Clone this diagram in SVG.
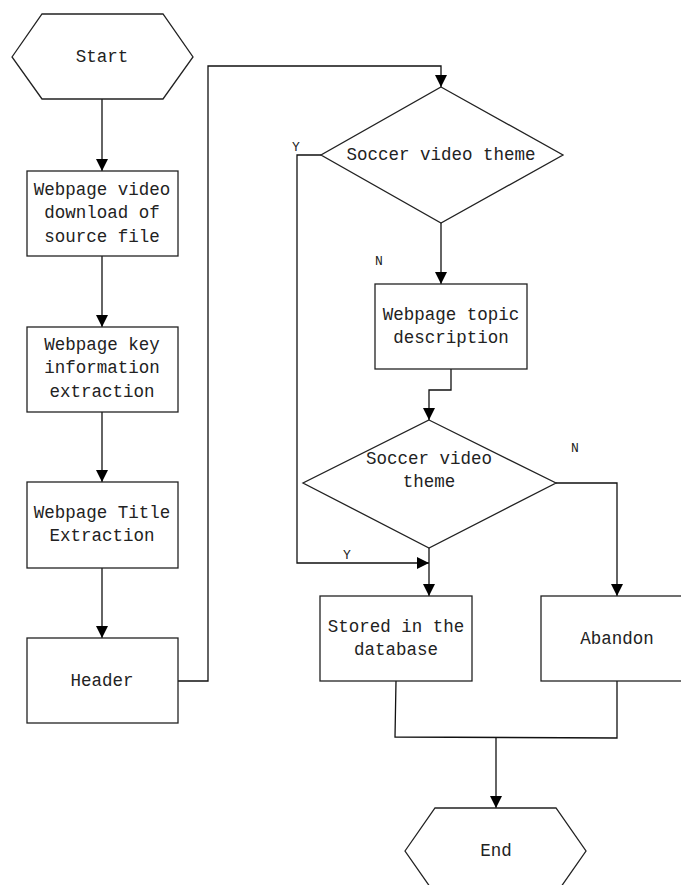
<svg xmlns="http://www.w3.org/2000/svg" width="681" height="885" viewBox="0 0 681 885">
<style>
.s{fill:#fff;stroke:#222;stroke-width:1.3}
.c{fill:none;stroke:#111;stroke-width:1.3}
.t{font-family:"Liberation Mono","DejaVu Sans Mono",monospace;font-size:17.5px;fill:#222;text-anchor:middle;dominant-baseline:central}
.l{font-family:"Liberation Mono","DejaVu Sans Mono",monospace;font-size:13px;fill:#222;text-anchor:middle;dominant-baseline:central}
</style>
<defs>
<marker id="a" markerWidth="12" markerHeight="12" refX="10" refY="5" orient="auto" markerUnits="userSpaceOnUse" viewBox="0 0 10 10">
<path d="M0,0 L10,5 L0,10 Z" fill="#000"/>
</marker>
</defs>
<rect width="681" height="885" fill="#fff"/>
<g id="connectors">
<path class="c" d="M102,99 V171" marker-end="url(#a)"/>
<path class="c" d="M102,256 V327" marker-end="url(#a)"/>
<path class="c" d="M102,412 V482" marker-end="url(#a)"/>
<path class="c" d="M102,568 V638" marker-end="url(#a)"/>
<path class="c" d="M178,681 H208 V66 H441 V87" marker-end="url(#a)"/>
<path class="c" d="M441,223 V284" marker-end="url(#a)"/>
<path class="c" d="M451,369 V390 H429 V420" marker-end="url(#a)"/>
<path class="c" d="M321,155 H297 V563 H429" marker-end="url(#a)"/>
<path class="c" d="M429,548 V596" marker-end="url(#a)"/>
<path class="c" d="M556,483 H617 V596" marker-end="url(#a)"/>
<path class="c" d="M396,681 L395,737 L617,738 V681"/>
<path class="c" d="M496,738 V808" marker-end="url(#a)"/>
<text class="l" x="296" y="147">Y</text>
<text class="l" x="379" y="261">N</text>
<text class="l" x="575" y="448">N</text>
<text class="l" x="347" y="555">Y</text>
</g>
<g id="start">
<polygon class="s" points="12,57 42,14 163,14 193,57 163,99 42,99"/>
<text class="t" x="102" y="57">Start</text>
</g>
<g id="download">
<rect class="s" x="27" y="171" width="151" height="85"/>
<text class="t" x="102" y="190">Webpage video</text>
<text class="t" x="102" y="213">download of</text>
<text class="t" x="102" y="237">source file</text>
</g>
<g id="keyinfo">
<rect class="s" x="27" y="327" width="151" height="85"/>
<text class="t" x="102" y="345">Webpage key</text>
<text class="t" x="102" y="368">information</text>
<text class="t" x="102" y="392">extraction</text>
</g>
<g id="title">
<rect class="s" x="27" y="482" width="151" height="86"/>
<text class="t" x="102" y="513">Webpage Title</text>
<text class="t" x="102" y="536">Extraction</text>
</g>
<g id="header">
<rect class="s" x="27" y="638" width="151" height="85"/>
<text class="t" x="102" y="681">Header</text>
</g>
<g id="decision1">
<polygon class="s" points="441,87 563,155 441,223 321,155"/>
<text class="t" x="441" y="155">Soccer video theme</text>
</g>
<g id="topic">
<rect class="s" x="375" y="284" width="152" height="85"/>
<text class="t" x="451" y="315">Webpage topic</text>
<text class="t" x="451" y="338">description</text>
</g>
<g id="decision2">
<polygon class="s" points="429,420 556,483 429,548 303,483"/>
<text class="t" x="429" y="459">Soccer video</text>
<text class="t" x="429" y="482">theme</text>
</g>
<g id="stored">
<rect class="s" x="320" y="596" width="152" height="85"/>
<text class="t" x="396" y="627">Stored in the</text>
<text class="t" x="396" y="650">database</text>
</g>
<g id="abandon">
<rect class="s" x="541" y="596" width="152" height="85"/>
<text class="t" x="617" y="639">Abandon</text>
</g>
<g id="end">
<polygon class="s" points="405,851 435,808 556,808 586,851 556,894 435,894"/>
<text class="t" x="496" y="851">End</text>
</g>
</svg>
